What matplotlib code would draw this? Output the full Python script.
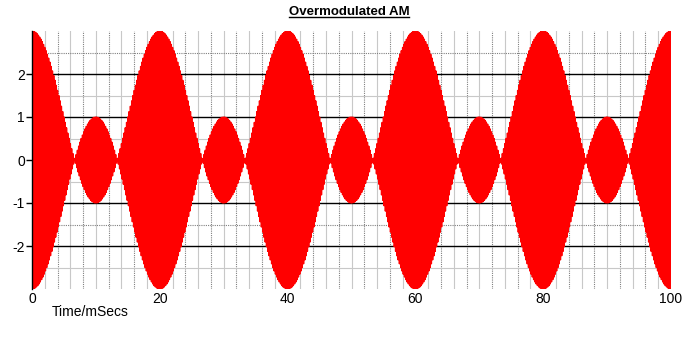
import numpy as np
import matplotlib
matplotlib.use("Agg")
import matplotlib.pyplot as plt
from matplotlib.lines import Line2D

# Parameters
title = "Overmodulated AM"
x_label = "Time/mSecs"
carrier_amplitude = 1.0        # envelope: 1 + 2cos -> peaks 3, minor lobes 1
modulation_index = 2.0
modulating_period_ms = 20.0    # big peaks at 0, 20, 40, 60, 80, 100
carrier_period_ms = 0.2
t_start_ms, t_end_ms = 0.0, 100.0
x_ticks = [0, 20, 40, 60, 80, 100]
y_ticks = [-2, -1, 0, 1, 2]
y_minor = [-2.5, -1.5, -0.5, 0.5, 1.5, 2.5]
x_minor = list(range(2, 100, 2))

t = np.linspace(t_start_ms, t_end_ms, 20001)
signal = carrier_amplitude * (1 + modulation_index * np.cos(2 * np.pi * t / modulating_period_ms)) \
    * np.cos(2 * np.pi * t / carrier_period_ms)

W, H = 690, 337
fig = plt.figure(figsize=(W / 100, H / 100), dpi=100)
plt.rcParams['font.family'] = ['Liberation Sans', 'DejaVu Sans']
left, right, top, bottom = 32, 671, 31, 289
ax = fig.add_axes([left / W, 1 - bottom / H, (right - left) / W, (bottom - top) / H])
ax.set_xlim(t_start_ms, t_end_ms)
ax.set_ylim(-3, 3)

# grid
for i, xv in enumerate(x_minor):
    if xv % 4 == 0:
        ax.axvline(xv, color='#808080', lw=0.8, ls=(0, (1, 1)), zorder=1)
    else:
        ax.axvline(xv, color='#c8c8c8', lw=0.8, zorder=1)
for yv in y_minor:
    if yv in (2.5, -1.5):
        ax.axhline(yv, color='#808080', lw=0.8, ls=(0, (1, 1)), zorder=1)
    else:
        ax.axhline(yv, color='#c8c8c8', lw=0.8, zorder=1)
for yv in y_ticks:
    if yv != 0:
        ax.axhline(yv, color='black', lw=1.0, zorder=1.5)

ax.plot(t, signal, color='#ff0000', lw=1.0, zorder=3)

for s in ['top', 'right', 'bottom']:
    ax.spines[s].set_visible(False)
ax.spines['left'].set_color('black')
ax.spines['left'].set_linewidth(1.0)
ax.spines['left'].set_zorder(4)

ax.set_xticks(x_ticks)
ax.set_xticklabels([str(v) for v in x_ticks])
ax.set_yticks(y_ticks)
ax.set_yticklabels([str(v) for v in y_ticks])
ax.tick_params(axis='x', length=0, pad=2, labelsize=10)
ax.tick_params(axis='y', length=4, width=1, pad=1, labelsize=10, direction='out')

fig.text(52 / W, 1 - 312 / H, x_label, fontsize=10, ha='left', va='center')

tt = fig.text(349 / W, 1 - 12 / H, title, fontsize=9.5, fontweight='bold', ha='center', va='center')
fig.canvas.draw()
bb = tt.get_window_extent(renderer=fig.canvas.get_renderer())
uy = (bb.y0 + 1.5) / H
fig.add_artist(Line2D([bb.x0 / W, bb.x1 / W], [uy, uy], color='black', lw=1.0, transform=fig.transFigure))

fig.savefig('out.png', dpi=100)
